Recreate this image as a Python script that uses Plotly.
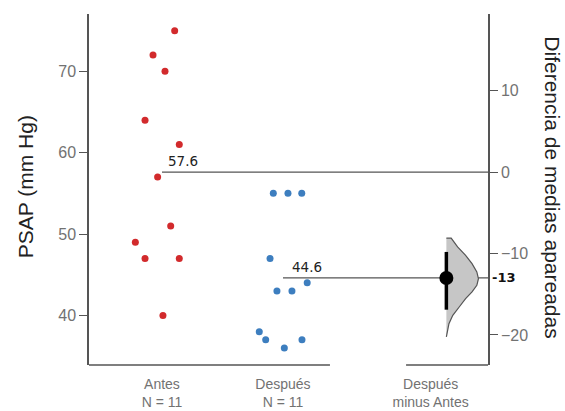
import plotly.graph_objects as go

# ---- data ----
antes = [75, 72, 70, 64, 61, 57, 51, 49, 47, 47, 40]
antes_jitter = [0.105, -0.074, 0.025, -0.14, 0.143, -0.036, 0.072, -0.22, -0.14, 0.143, 0.008]
despues = [55, 55, 55, 47, 43, 43, 44, 38, 37, 36, 37]
despues_jitter = [-0.08, 0.041, 0.155, -0.107, -0.05, 0.074, 0.2, -0.196, -0.143, 0.011, 0.157]

mean_antes = 57.6
mean_despues = 44.6
mean_diff = -13
ci_diff = [-9.8, -16.9]

# bootstrap distribution outline (difference value, relative density)
diff_grid = [-8.1, -9.19, -10.21, -11.24, -12.26, -13.09, -13.9, -14.72,
             -15.55, -16.57, -17.59, -18.62, -19.85, -20.25]
diff_density = [0.15, 0.35, 0.6, 0.8, 0.95, 1.0, 0.95, 0.8, 0.6, 0.4, 0.2, 0.08, 0.02, 0.0]

tick_vals = [0, 1, 2.22]
tick_text = ["Antes<br>N = 11", "Después<br>N = 11", "Después<br>minus Antes"]

# ---- layout constants ----
X_RANGE = [-0.603, 2.694]
Y_RANGE = [33.9, 77.05]
Y2_RANGE = [Y_RANGE[0] - mean_antes, Y_RANGE[1] - mean_antes]
VIOLIN_X = 2.35
VIOLIN_W = 0.265

GRAY = "#727272"
AXIS = "#555555"
FONT = "Liberation Sans, Arial, sans-serif"

fig = go.Figure()

# raw points
fig.add_trace(go.Scatter(
    x=[0 + j for j in antes_jitter], y=antes, mode="markers",
    marker=dict(color="#d22a2c", size=7), showlegend=False))
fig.add_trace(go.Scatter(
    x=[1 + j for j in despues_jitter], y=despues, mode="markers",
    marker=dict(color="#3d7ebf", size=7), showlegend=False))

# mean lines
fig.add_trace(go.Scatter(x=[0, X_RANGE[1]], y=[mean_antes, mean_antes], mode="lines",
                         line=dict(color=AXIS, width=1.3), showlegend=False))
fig.add_trace(go.Scatter(x=[1, X_RANGE[1]], y=[mean_despues, mean_despues], mode="lines",
                         line=dict(color=AXIS, width=1.3), showlegend=False))

# half violin on secondary axis
vx = [VIOLIN_X] + [VIOLIN_X + d * VIOLIN_W for d in diff_density] + [VIOLIN_X]
vy = [diff_grid[0]] + diff_grid + [diff_grid[-1]]
fig.add_trace(go.Scatter(x=vx, y=vy, mode="lines", fill="toself",
                         fillcolor="#c6c6c6", line=dict(color="#555555", width=1.2),
                         yaxis="y2", showlegend=False))

# CI line and mean dot
fig.add_trace(go.Scatter(x=[VIOLIN_X, VIOLIN_X], y=ci_diff, mode="lines",
                         line=dict(color="black", width=3.5), yaxis="y2", showlegend=False))
fig.add_trace(go.Scatter(x=[VIOLIN_X], y=[mean_diff], mode="markers",
                         marker=dict(color="black", size=14), yaxis="y2", showlegend=False))

fig.update_layout(
    width=565, height=411,
    margin=dict(l=89, r=77, t=14, b=46, autoexpand=False),
    paper_bgcolor="white", plot_bgcolor="white",
    font=dict(family=FONT, color=GRAY, size=16),
    xaxis=dict(range=X_RANGE, tickvals=tick_vals, ticktext=tick_text, automargin=False,
               showline=False, showgrid=False, zeroline=False,
               ticks="outside", ticklen=6, tickcolor="rgba(0,0,0,0)",
               tickfont=dict(size=14, color=GRAY, family=FONT)),
    yaxis=dict(range=Y_RANGE, tickvals=[40, 50, 60, 70], showgrid=False, zeroline=False,
               automargin=False,
               showline=True, linecolor=AXIS, linewidth=1.5,
               ticks="outside", ticklen=8, tickcolor=AXIS, tickwidth=1.2,
               tickfont=dict(size=16, color=GRAY, family=FONT)),
    yaxis2=dict(range=Y2_RANGE, overlaying="y", side="right", anchor="x",
                tickvals=[10, 0, -10, -20], showgrid=False, zeroline=False,
                automargin=False,
                showline=True, linecolor=AXIS, linewidth=1.5,
                ticks="outside", ticklen=8, tickcolor=AXIS, tickwidth=1.2,
                tickfont=dict(size=16, color=GRAY, family=FONT)),
    shapes=[
        dict(type="line", xref="x", yref="paper", x0=X_RANGE[0], x1=1.388, y0=0, y1=0,
             line=dict(color=AXIS, width=1.5)),
        dict(type="line", xref="x", yref="paper", x0=2.017, x1=X_RANGE[1], y0=0, y1=0,
             line=dict(color=AXIS, width=1.5)),
    ],
    annotations=[
        dict(text=f"{mean_antes}", x=0, y=mean_antes, xref="x", yref="y",
             xanchor="left", yanchor="bottom", xshift=4, yshift=1, showarrow=False,
             font=dict(family="DejaVu Sans", size=13.5, color="#222222")),
        dict(text=f"{mean_despues}", x=1, y=mean_despues, xref="x", yref="y",
             xanchor="left", yanchor="bottom", xshift=7, yshift=1, showarrow=False,
             font=dict(family="DejaVu Sans", size=13.5, color="#222222")),
        dict(text=f"<b>{mean_diff}</b>", x=1, y=mean_diff, xref="paper", yref="y2",
             xanchor="left", yanchor="middle", xshift=2, showarrow=False,
             font=dict(family="DejaVu Sans", size=13, color="#111111")),
        dict(text="PSAP (mm Hg)", x=-0.160, y=0.507, xref="paper", yref="paper",
             textangle=-90, showarrow=False, xanchor="center", yanchor="middle",
             font=dict(family=FONT, size=21, color="#222222")),
        dict(text="Diferencia de medias apareadas", x=1.163, y=0.506, xref="paper", yref="paper",
             textangle=90, showarrow=False, xanchor="center", yanchor="middle",
             font=dict(family=FONT, size=21, color="#222222")),
    ],
)

fig.write_html("out.html", config={"displayModeBar": False},
               post_script="document.body.style.margin='0';")
